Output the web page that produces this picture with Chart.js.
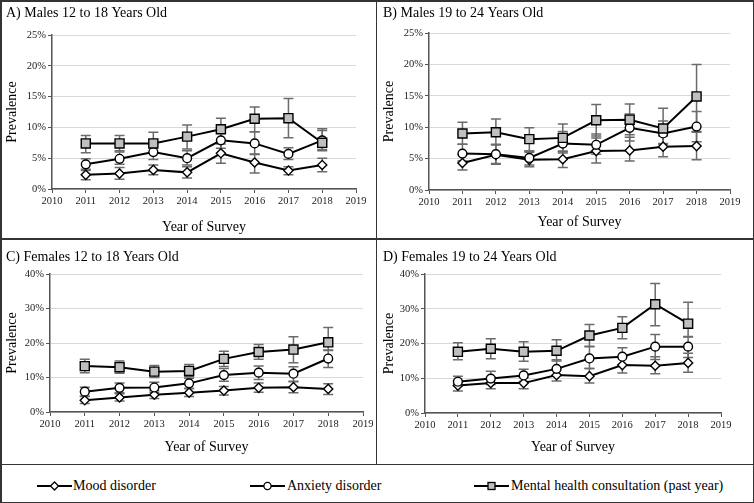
<!DOCTYPE html>
<html>
<head>
<meta charset="utf-8">
<script src="https://cdn.jsdelivr.net/npm/chart.js@4.4.1/dist/chart.umd.min.js"></script>
<style>
html,body{margin:0;padding:0;background:#fff;}
#wrap{position:relative;width:754px;height:503px;overflow:hidden;background:#fff;font-family:"Liberation Serif","Times New Roman",serif;}
#wrap canvas{position:absolute;}
.ln{position:absolute;background:#333;}
.leg{position:absolute;top:476px;font-size:14px;line-height:20px;color:#000;white-space:nowrap;}
.legmk{position:absolute;top:479px;}
</style>
</head>
<body>
<div id="wrap">
  <canvas id="cA" width="376" height="238" style="left:0;top:0;width:376px;height:238px"></canvas>
  <canvas id="cB" width="377" height="238" style="left:377px;top:0;width:377px;height:238px"></canvas>
  <canvas id="cC" width="376" height="225" style="left:0;top:239px;width:376px;height:225px"></canvas>
  <canvas id="cD" width="377" height="225" style="left:377px;top:239px;width:377px;height:225px"></canvas>

  <div class="ln" style="left:0;top:0;width:754px;height:1.5px"></div>
  <div class="ln" style="left:0;top:501.5px;width:754px;height:1.5px"></div>
  <div class="ln" style="left:0;top:0;width:1.5px;height:503px"></div>
  <div class="ln" style="left:752.5px;top:0;width:1.5px;height:503px"></div>
  <div class="ln" style="left:375.5px;top:0;width:1.5px;height:464px"></div>
  <div class="ln" style="left:0;top:238px;width:754px;height:1.5px"></div>
  <div class="ln" style="left:0;top:463.5px;width:754px;height:1.5px"></div>

  <svg class="legmk" style="left:37px" width="35" height="14"><line x1="0" y1="7" x2="35" y2="7" stroke="#000" stroke-width="2"/><polygon points="13.5,7 17.5,3 21.5,7 17.5,11" fill="#fff" stroke="#000" stroke-width="1.3"/></svg>
  <div class="leg" style="left:73px">Mood disorder</div>
  <svg class="legmk" style="left:250px" width="35" height="14"><line x1="0" y1="7" x2="35" y2="7" stroke="#000" stroke-width="2"/><circle cx="17.5" cy="7" r="3.6" fill="#fff" stroke="#000" stroke-width="1.3"/></svg>
  <div class="leg" style="left:287px">Anxiety disorder</div>
  <svg class="legmk" style="left:474px" width="35" height="14"><line x1="0" y1="7" x2="35" y2="7" stroke="#000" stroke-width="2"/><rect x="14" y="3.5" width="7" height="7" fill="#bfbfbf" stroke="#000" stroke-width="1.3"/></svg>
  <div class="leg" style="left:511px">Mental health consultation (past year)</div>
</div>

<script>
// ---------- DATA ----------
const years = [2011, 2012, 2013, 2014, 2015, 2016, 2017, 2018];
const seriesNames = ['Mood disorder', 'Anxiety disorder', 'Mental health consultation (past year)'];
const panelTitles = ['A) Males 12 to 18 Years Old', 'B) Males 19 to 24 Years Old',
                     'C) Females 12 to 18 Years Old', 'D) Females 19 to 24 Years Old'];
const xAxisTitle = 'Year of Survey';
const yAxisTitle = 'Prevalence';

// Panel A – Males 12-18 (%)
const moodA    = [2.3, 2.5, 3.1, 2.7, 5.8, 4.3, 3.0, 3.9];
const moodA_lo = [1.5, 1.6, 2.3, 1.8, 4.2, 2.6, 2.3, 2.8];
const moodA_hi = [3.0, 3.5, 3.9, 3.6, 7.3, 5.6, 3.6, 5.0];
const anxA     = [4.0, 4.9, 6.0, 5.0, 7.9, 7.4, 5.7, 7.9];
const anxA_lo  = [3.2, 4.0, 4.8, 3.9, 6.6, 5.7, 4.8, 6.4];
const anxA_hi  = [4.9, 6.2, 7.2, 6.2, 9.3, 9.3, 6.7, 9.5];
const conA     = [7.4, 7.4, 7.4, 8.5, 9.7, 11.4, 11.5, 7.5];
const conA_lo  = [5.9, 6.0, 5.9, 6.5, 7.9, 9.3, 8.3, 6.2];
const conA_hi  = [8.7, 8.7, 9.2, 10.4, 11.5, 13.3, 14.7, 9.8];

// Panel B – Males 19-24 (%)
const moodB    = [4.3, 5.6, 4.8, 4.9, 6.2, 6.3, 6.9, 7.0];
const moodB_lo = [3.2, 4.1, 3.7, 3.6, 4.3, 4.6, 5.3, 4.8];
const moodB_hi = [5.6, 7.2, 6.0, 6.2, 8.3, 8.4, 8.6, 9.3];
const anxB     = [5.8, 5.7, 5.1, 7.4, 7.2, 9.9, 9.0, 10.1];
const anxB_lo  = [4.6, 4.2, 4.0, 5.9, 5.7, 7.8, 7.3, 7.7];
const anxB_hi  = [7.3, 7.2, 6.2, 9.3, 8.9, 12.1, 11.0, 12.5];
const conB     = [9.0, 9.2, 8.1, 8.3, 11.1, 11.2, 9.8, 14.9];
const conB_lo  = [7.3, 7.3, 6.2, 6.1, 8.6, 8.8, 7.4, 9.2];
const conB_hi  = [10.8, 11.3, 9.9, 10.5, 13.6, 13.7, 13.0, 20.0];

// Panel C – Females 12-18 (%)
const moodC    = [3.4, 4.2, 5.0, 5.6, 6.2, 7.0, 7.2, 6.7];
const moodC_lo = [2.5, 3.2, 3.9, 4.5, 4.9, 5.7, 5.6, 5.1];
const moodC_hi = [4.5, 5.3, 6.2, 6.8, 7.4, 8.4, 8.9, 8.2];
const anxC     = [5.9, 7.0, 7.1, 8.3, 10.7, 11.4, 11.1, 15.5];
const anxC_lo  = [4.6, 5.6, 5.7, 6.8, 8.9, 9.4, 8.8, 12.9];
const anxC_hi  = [7.2, 8.4, 8.6, 9.8, 12.6, 13.3, 13.1, 18.0];
const conC     = [13.3, 13.0, 11.7, 11.9, 15.4, 17.4, 18.1, 20.2];
const conC_lo  = [11.4, 11.2, 10.0, 10.2, 13.2, 15.3, 14.3, 17.8];
const conC_hi  = [15.3, 14.8, 13.5, 13.8, 17.6, 19.6, 21.8, 24.5];

// Panel D – Females 19-24 (%)
const moodD    = [7.9, 8.6, 8.6, 10.9, 10.6, 13.8, 13.6, 14.4];
const moodD_lo = [6.3, 7.0, 7.0, 9.2, 8.6, 11.5, 11.3, 11.7];
const moodD_hi = [9.3, 10.3, 10.2, 12.8, 12.8, 16.2, 16.2, 17.2];
const anxD     = [9.0, 9.9, 10.8, 12.7, 15.7, 16.2, 19.1, 19.1];
const anxD_lo  = [7.8, 8.2, 9.1, 10.8, 12.8, 13.9, 15.4, 16.0];
const anxD_hi  = [10.6, 12.0, 12.6, 15.3, 19.2, 18.8, 22.6, 22.0];
const conD     = [17.6, 18.5, 17.6, 17.9, 22.3, 24.5, 31.3, 25.7];
const conD_lo  = [15.3, 15.6, 14.9, 15.0, 19.1, 21.4, 25.1, 21.9];
const conD_hi  = [20.2, 21.4, 20.5, 21.1, 25.5, 27.7, 37.3, 31.9];

const xTicks = {min: 2010, max: 2019, step: 1};
const yTicksAB = {min: 0, max: 25, step: 5};
const yTicksCD = {min: 0, max: 40, step: 10};

// ---------- STYLE / LAYOUT ----------
const FONT = '"Liberation Serif", "Times New Roman", serif';
const seriesStyle = [
  {pointStyle: 'rectRot', radius: 4.6, fill: '#ffffff', order: 2},
  {pointStyle: 'circle',  radius: 4.4, fill: '#ffffff', order: 1},
  {pointStyle: 'rect',    radius: 6.4, fill: '#bfbfbf', order: 0}
];

const errorBars = {
  id: 'errorBars',
  beforeDatasetsDraw(chart) {
    const ctx = chart.ctx;
    const xs = chart.scales.x, ys = chart.scales.y;
    ctx.save();
    ctx.strokeStyle = '#6b6b6b';
    ctx.lineWidth = 1.5;
    chart.data.datasets.forEach(ds => {
      ds.data.forEach((p, i) => {
        const x = xs.getPixelForValue(p.x);
        const yl = ys.getPixelForValue(ds.errLo[i]);
        const yh = ys.getPixelForValue(ds.errHi[i]);
        const c = 5;
        ctx.beginPath();
        ctx.moveTo(x, yl); ctx.lineTo(x, yh);
        ctx.moveTo(x - c, yl); ctx.lineTo(x + c, yl);
        ctx.moveTo(x - c, yh); ctx.lineTo(x + c, yh);
        ctx.stroke();
      });
    });
    ctx.restore();
  }
};

function makeDatasets(vals, los, his) {
  return vals.map((v, k) => ({
    label: seriesNames[k],
    data: years.map((yr, i) => ({x: yr, y: v[i]})),
    errLo: los[k], errHi: his[k],
    borderColor: '#000', borderWidth: 2, tension: 0, fill: false,
    pointStyle: seriesStyle[k].pointStyle,
    pointRadius: seriesStyle[k].radius,
    pointHoverRadius: seriesStyle[k].radius,
    pointBackgroundColor: seriesStyle[k].fill,
    pointBorderColor: '#000', pointBorderWidth: 1.4,
    order: seriesStyle[k].order
  }));
}

function makeChart(id, title, datasets, yT, lay) {
  new Chart(document.getElementById(id), {
    type: 'line',
    data: {datasets},
    plugins: [errorBars],
    options: {
      responsive: false, animation: false, events: [],
      layout: {padding: {left: 6, right: lay.pr, top: 0, bottom: 0}},
      plugins: {
        legend: {display: false}, tooltip: {enabled: false},
        title: {display: true, text: title, align: 'start', color: '#000',
                font: {family: FONT, size: 14, weight: 'normal', lineHeight: 1.2},
                padding: {top: lay.tpt, bottom: lay.tpb}}
      },
      scales: {
        x: {
          type: 'linear', min: xTicks.min, max: xTicks.max,
          afterFit: s => { s.height = lay.xh; },
          ticks: {stepSize: xTicks.step, callback: v => String(v), color: '#222',
                  font: {family: FONT, size: 10.5}, padding: 2, maxRotation: 0},
          grid: {drawOnChartArea: false, drawTicks: true, tickLength: 4, tickColor: '#555'},
          border: {display: true, color: '#555', width: 1.5},
          title: {display: true, text: xAxisTitle, color: '#000',
                  font: {family: FONT, size: 14, lineHeight: 1.2}, padding: {top: 0, bottom: lay.xtp}}
        },
        y: {
          min: yT.min, max: yT.max,
          afterFit: s => { s.width = lay.yw; },
          ticks: {stepSize: yT.step, callback: v => v + '%', color: '#222',
                  font: {family: FONT, size: 10.5}, padding: 2},
          grid: {color: '#d9d9d9', lineWidth: 1, drawTicks: true, tickLength: 4, tickColor: '#555'},
          border: {display: true, color: '#555', width: 1.5},
          title: {display: true, text: yAxisTitle, color: '#000',
                  font: {family: FONT, size: 14, lineHeight: 0.85}, padding: {top: 0, bottom: 0}}
        }
      }
    }
  });
}

makeChart('cA', panelTitles[0],
  makeDatasets([moodA, anxA, conA], [moodA_lo, anxA_lo, conA_lo], [moodA_hi, anxA_hi, conA_hi]),
  yTicksAB, {pr: 20, yw: 46, xh: 49, tpt: 5, tpb: 13.2, xtp: 2.6});
makeChart('cB', panelTitles[1],
  makeDatasets([moodB, anxB, conB], [moodB_lo, anxB_lo, conB_lo], [moodB_hi, anxB_hi, conB_hi]),
  yTicksAB, {pr: 24, yw: 46, xh: 48, tpt: 5, tpb: 11.2, xtp: 7.6});
makeChart('cC', panelTitles[2],
  makeDatasets([moodC, anxC, conC], [moodC_lo, anxC_lo, conC_lo], [moodC_hi, anxC_hi, conC_hi]),
  yTicksCD, {pr: 13, yw: 44, xh: 52, tpt: 9.6, tpb: 8.6, xtp: 8.6});
makeChart('cD', panelTitles[3],
  makeDatasets([moodD, anxD, conD], [moodD_lo, anxD_lo, conD_lo], [moodD_hi, anxD_hi, conD_hi]),
  yTicksCD, {pr: 33, yw: 42, xh: 51, tpt: 9.6, tpb: 8.6, xtp: 8.6});
</script>
</body>
</html>
